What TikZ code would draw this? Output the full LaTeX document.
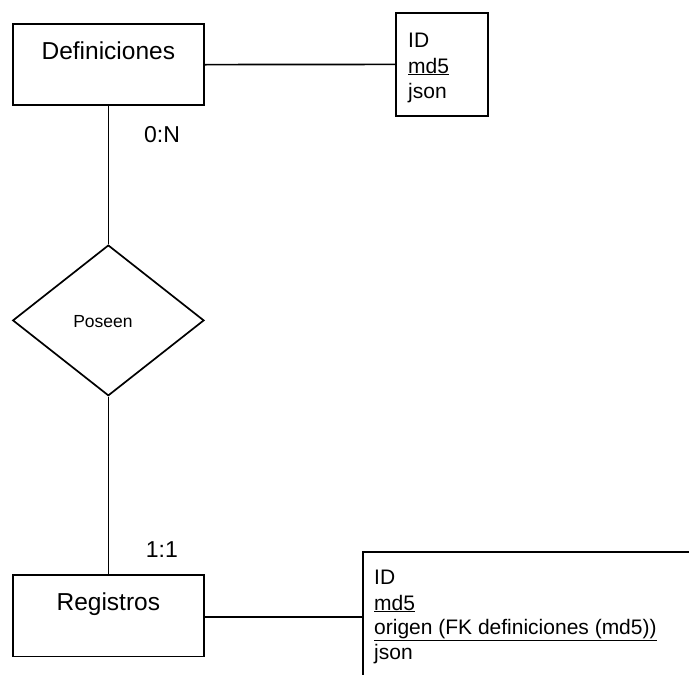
\documentclass[tikz,border=0pt]{standalone}
\usepackage{fontspec}
\setmainfont{Liberation Sans}
\usetikzlibrary{shapes.geometric}
\begin{document}
\begin{tikzpicture}[x=1pt,y=-1pt,
  ln/.style={draw=black,line width=1.7pt},
  entbox/.style={ln,rectangle,minimum width=191.3pt,minimum height=81.3pt,inner sep=0pt},
  bigtxt/.style={font=\fontsize{24.5}{29}\selectfont,inner sep=0pt,anchor=base},
  attr/.style={font=\fontsize{21}{25}\selectfont,inner sep=0pt,anchor=base west},
  card/.style={font=\fontsize{23}{27}\selectfont,inner sep=0pt,anchor=base west}]
\useasboundingbox (0,0) rectangle (689,675);
% entities
\node[entbox] (def) at (108.35,64.65) {};
\node[bigtxt] (deft) at (108.35,59.3) {Definiciones};
\node[entbox] (reg) at (108.35,615.8) {};
\node[bigtxt] (regt) at (108.35,610.7) {Registros};
% relationship
\node[ln,diamond,minimum width=191.3pt,minimum height=150.7pt,inner sep=0pt,aspect=1.27] (rel) at (108.35,320.4) {};
\node[font=\fontsize{17.5}{21}\selectfont,inner sep=0pt,anchor=base] (relt) at (103,327.3) {Poseen};
% attribute box (top)
\node[ln,rectangle,minimum width=92.6pt,minimum height=103.3pt,inner sep=0pt] (att1) at (442,64.35) {};
\node[attr] (a1id) at (408,47) {ID};
\node[attr] (a1md) at (408,73) {\underline{md5}};
\node[attr] (a1js) at (408,98) {json};
% attribute box (bottom, cut off by picture edge)
\coordinate (b2tr) at (690,552.3);
\coordinate (b2tl) at (363.3,552.3);
\coordinate (b2bl) at (363.3,676);
\coordinate (b2w) at (363.3,616.7);
\draw[ln] (b2tr) -- (b2tl) -- (b2bl);
\node[attr] (a2id) at (374,584.3) {ID};
\node[attr] (a2md) at (374,610) {\underline{md5}};
\node[attr] (a2or) at (374,634.3) {\underline{origen (FK definiciones (md5))}};
\node[attr] (a2js) at (374,659) {json};
% cardinalities
\node[card] (c1) at (144,142.3) {0:N};
\node[card] (c2) at (145.7,557.3) {1:1};
% connectors
\draw[ln] (def.east) -- (att1.west);
\draw[ln] (def.south) -- (rel.north);
\draw[ln] (rel.south) -- (reg.north);
\draw[ln] (reg.east |- b2w) -- (b2w);
\end{tikzpicture}
\end{document}
